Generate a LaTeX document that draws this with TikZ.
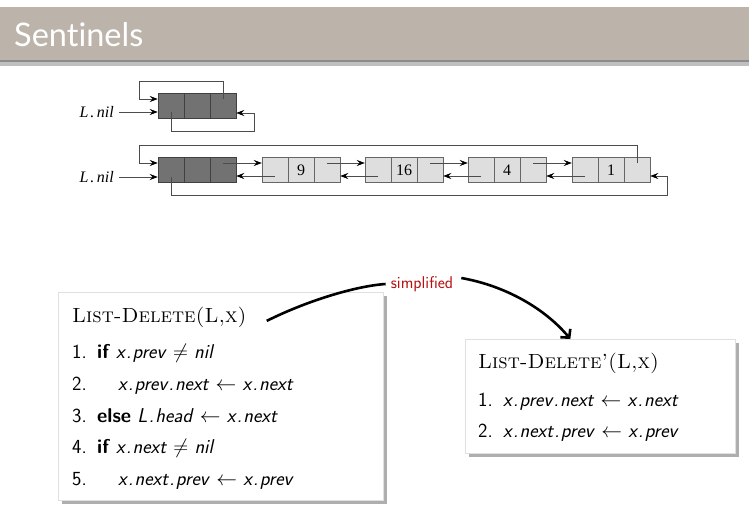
\documentclass[tikz,border=0pt]{standalone}
\usepackage{fontspec}
\newfontfamily\titlefont{Lato}[Ligatures=NoCommon]
\newfontfamily\clrsfont{Liberation Serif}
\usetikzlibrary{arrows.meta,shadows}
\definecolor{barcol}{HTML}{BCB4AB}
\definecolor{darkcell}{HTML}{727272}
\definecolor{lightcell}{HTML}{DEDEDE}
\definecolor{simpred}{HTML}{B80F0F}
\newcommand{\mydot}{\kern1.3pt.\kern1.3pt}
\newcommand{\nilt}{L\kern2pt.\kern2.5pt nil}
\tikzset{
  cellD/.style={draw=black!75, fill=darkcell, minimum width=26pt, minimum height=25pt, inner sep=0pt, line width=0.5pt},
  cellL/.style={draw=black!60, fill=lightcell, minimum width=26pt, minimum height=25pt, inner sep=0pt, line width=0.5pt, font=\clrsfont\fontsize{16}{16}\selectfont},
  ptr/.style={draw=black!70, line width=0.6pt, -{Stealth[length=8pt,width=6pt,inset=3pt,black]}},
  nillabel/.style={anchor=east, inner sep=0pt, font=\clrsfont\itshape\fontsize{16}{16}\selectfont},
  algbox/.style={draw=black!12, fill=white, line width=0.6pt, inner sep=0pt, anchor=north west,
     drop shadow={shadow xshift=4pt, shadow yshift=-4pt, fill=black!45, opacity=0.7}},
  algtitle/.style={anchor=base west, inner sep=0pt, font=\fontsize{20.5}{20.5}\selectfont},
  algline/.style={anchor=base west, inner sep=0pt, font=\sffamily\fontsize{20}{20}\selectfont},
  bigcurve/.style={line width=2.6pt, black},
}
\begin{document}
\begin{tikzpicture}[x=1pt,y=-1pt]
\path[use as bounding box, fill=white] (0,0) rectangle (749,532);
% title bar
\fill[black!45] (0,58) rectangle (749,64);
\fill[black!25] (0,62) rectangle (749,66);
\fill[barcol] (0,7) rectangle (749,60);
\node[anchor=base west, inner sep=0pt, text=white, font=\titlefont\fontsize{32.5}{32.5}\selectfont] (title) at (14,47) {Sentinels};

% ---------- list 1 (empty) ----------
\node[cellD] (p1) at (171,106) {};
\node[cellD] (p2) at (197,106) {};
\node[cellD] (p3) at (223,106) {};
\node[nillabel] (nil1) at (114,112) {\nilt};
\draw[ptr] (nil1.east -| 119,0) -- ([yshift=-6pt]p1.west);
\coordinate (tl1) at (139,81);
\coordinate (bl1) at (254,131);
\draw[ptr] ([yshift=7pt]p3.center) -- (p3.center |- tl1) -- (tl1) -- (tl1 |- 0,99) -- ([yshift=7pt]p1.west);
\draw[ptr] ([yshift=-6pt]p1.center) -- (p1.center |- bl1) -- (bl1) -- (bl1 |- 0,113) -- ([yshift=-7pt]p3.east);

% ---------- list 2 ----------
\node[cellD] (a1) at (171,170) {};
\node[cellD] (a2) at (197,170) {};
\node[cellD] (a3) at (223,170) {};
\node[cellL] (b1) at (275,170) {};
\node[cellL] (b2) at (301,170) {9};
\node[cellL] (b3) at (327,170) {};
\node[cellL] (c1) at (378,170) {};
\node[cellL] (c2) at (404,170) {16};
\node[cellL] (c3) at (430,170) {};
\node[cellL] (d1) at (481,170) {};
\node[cellL] (d2) at (507,170) {4};
\node[cellL] (d3) at (533,170) {};
\node[cellL] (e1) at (585,170) {};
\node[cellL] (e2) at (611,170) {1};
\node[cellL] (e3) at (637,170) {};
\node[nillabel] (nil2) at (114,177) {\nilt};
\draw[ptr] (nil2.east -| 119,0) -- ([yshift=-7pt]a1.west);
% next pointers
\draw[ptr] ([yshift=7pt]a3.center) -- ([yshift=7pt]b1.west);
\draw[ptr] ([yshift=7pt]b3.center) -- ([yshift=7pt]c1.west);
\draw[ptr] ([yshift=7pt]c3.center) -- ([yshift=7pt]d1.west);
\draw[ptr] ([yshift=7pt]d3.center) -- ([yshift=7pt]e1.west);
% prev pointers
\draw[ptr] ([yshift=-6pt]b1.center) -- ([yshift=-6pt]a3.east);
\draw[ptr] ([yshift=-6pt]c1.center) -- ([yshift=-6pt]b3.east);
\draw[ptr] ([yshift=-6pt]d1.center) -- ([yshift=-6pt]c3.east);
\draw[ptr] ([yshift=-6pt]e1.center) -- ([yshift=-6pt]d3.east);
% loops
\coordinate (tl2) at (139,145);
\coordinate (bl2) at (667,195);
\draw[ptr] ([yshift=7pt]e3.center) -- (e3.center |- tl2) -- (tl2) -- (tl2 |- 0,163) -- ([yshift=7pt]a1.west);
\draw[ptr] ([yshift=-7pt]a1.center) -- (a1.center |- bl2) -- (bl2) -- (bl2 |- 0,176) -- ([yshift=-6pt]e3.east);

% ---------- algorithm boxes ----------
\node[algbox, minimum width=325pt, minimum height=208pt] (box1) at (58,292) {};
\node[algtitle] (t1) at (72,322) {\textsc{List-Delete(L,x)}};
\node[algline] (n11) at (72,358) {1.};
\node[algline] (l11) at (97,358) {\textbf{if} \textit{x\mydot prev} $\neq$ \textit{nil}};
\node[algline] (n12) at (72,390) {2.};
\node[algline] (l12) at (118,390) {\textit{x\mydot prev\mydot next} $\leftarrow$ \textit{x\mydot next}};
\node[algline] (n13) at (72,422) {3.};
\node[algline] (l13) at (97,422) {\textbf{else} \textit{L\mydot head} $\leftarrow$ \textit{x\mydot next}};
\node[algline] (n14) at (72,453) {4.};
\node[algline] (l14) at (97,453) {\textbf{if} \textit{x\mydot next} $\neq$ \textit{nil}};
\node[algline] (n15) at (72,485) {5.};
\node[algline] (l15) at (118,485) {\textit{x\mydot next\mydot prev} $\leftarrow$ \textit{x\mydot prev}};

\node[algbox, minimum width=270pt, minimum height=114pt] (box2) at (465,339) {};
\node[algtitle] (t2) at (478,368) {\textsc{List-Delete'(L,x)}};
\node[algline] (n21) at (478,406) {1.};
\node[algline] (l21) at (503,406) {\textit{x\mydot prev\mydot next} $\leftarrow$ \textit{x\mydot next}};
\node[algline] (n22) at (478,437) {2.};
\node[algline] (l22) at (503,437) {\textit{x\mydot next\mydot prev} $\leftarrow$ \textit{x\mydot prev}};

% simplified label and curves
\node[inner sep=2pt, text=simpred, font=\sffamily\fontsize{17}{17}\selectfont] (simp) at (422,284) {simplified};
\draw[bigcurve] ([xshift=20pt,yshift=-4pt]t1.east) .. controls +(40,-20) and +(-30,2) .. ([xshift=-3pt]simp.west);
\draw[bigcurve, -{Straight Barb[length=6pt,width=13pt]}] ([xshift=6pt,yshift=6pt]simp.east) .. controls +(45,8) and +(-25,-30) .. ([xshift=-30pt]box2.north);
\end{tikzpicture}
\end{document}
